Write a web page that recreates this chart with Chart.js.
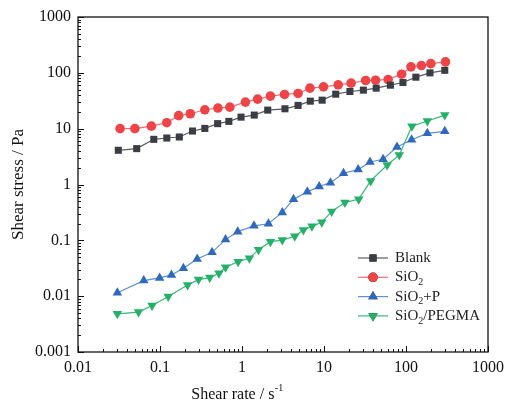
<!DOCTYPE html>
<html>
<head>
<meta charset="utf-8">
<script src="https://cdn.jsdelivr.net/npm/chart.js@4.4.1/dist/chart.umd.min.js"></script>
<style>
  body { margin: 0; background: #fff; }
  #wrap { width: 510px; height: 410px; }
</style>
</head>
<body>
<div id="wrap"><canvas id="chart" width="510" height="410"></canvas></div>
<script>
// ---------- data ----------
const blankX = [0.031,0.052,0.084,0.121,0.172,0.249,0.352,0.505,0.691,0.973,1.41,2.06,3.34,4.83,6.80,9.49,13.9,20.7,30.2,43.3,64.5,91.8,132,196,297];
const blankY = [4.10,4.39,6.44,6.80,7.09,9.07,10.1,12.3,13.5,16.1,17.5,21.5,22.7,26.1,31.1,32.4,41.5,46.3,49.0,53.2,60.1,67.1,83.6,99.9,111];

const sio2X = [0.0326,0.0494,0.0785,0.121,0.169,0.234,0.352,0.509,0.711,1.10,1.55,2.22,3.30,4.83,6.74,9.86,14.9,21.4,32.2,42.6,60.5,88.4,115,154,201,303];
const sio2Y = [10.0,10.0,11.1,12.8,17.1,18.5,21.8,23.4,24.3,29.9,33.8,38.3,41.0,42.7,53.2,56.1,61.0,65.3,72.9,73.8,75.9,94.6,128,135,146,157];

const sio2pX = [0.0302,0.0634,0.099,0.138,0.193,0.284,0.431,0.630,0.887,1.40,2.10,3.10,4.25,6.26,8.74,12.0,17.3,26.1,36.4,52.6,77.6,117,182,297];
const sio2pY = [0.0115,0.0190,0.0212,0.0240,0.0316,0.0464,0.061,0.103,0.143,0.182,0.198,0.316,0.546,0.738,0.92,1.08,1.59,1.85,2.53,2.83,4.70,6.35,8.24,8.95];

const pegmaX = [0.0302,0.0547,0.080,0.126,0.217,0.295,0.404,0.524,0.630,0.896,1.23,1.59,2.22,3.10,4.40,5.60,7.13,9.40,12.4,18.0,26.5,37.1,58.9,82.8,118,182,297];
const pegmaY = [0.00483,0.00518,0.00681,0.00985,0.0159,0.0198,0.0215,0.0257,0.0329,0.0415,0.0476,0.0681,0.0946,0.101,0.118,0.153,0.178,0.210,0.329,0.476,0.546,1.16,2.24,3.38,11.1,13.7,17.5];

const seriesNames = ['Blank', 'SiO2', 'SiO2+P', 'SiO2/PEGMA'];
const xDecades = [0.01, 0.1, 1, 10, 100, 1000];
const yDecades = [0.001, 0.01, 0.1, 1, 10, 100, 1000];

const serif = '"Liberation Serif", "Times New Roman", serif';

function pts(xs, ys) { return xs.map((x, i) => ({ x: x, y: ys[i] })); }

// all 1..9 x 10^n ticks between the decades
function logTicks(decs) {
    const out = [];
    for (let d = 0; d < decs.length; d++) {
        for (let m = 1; m <= 9; m++) {
            if (d === decs.length - 1 && m > 1) break;
            out.push({ value: Number((m * decs[d]).toPrecision(2)), major: m === 1 });
        }
    }
    return out;
}

function decLabel(v) {
    const l = Math.log10(v);
    if (Math.abs(l - Math.round(l)) > 1e-6) return '';
    return String(Number(v.toPrecision(1)));
}

// ---------- inward ticks, frame, legend, x title ----------
const decor = {
    id: 'decor',
    afterDraw(chart) {
        const ctx = chart.ctx;
        const a = chart.chartArea;
        const xs = chart.scales.x, ys = chart.scales.y;
        ctx.save();
        ctx.strokeStyle = '#111';
        ctx.lineWidth = 1;
        xs.ticks.forEach(t => {
            const px = Math.round(xs.getPixelForValue(t.value)) + 0.5;
            const len = t.major ? 6 : 3;
            ctx.beginPath(); ctx.moveTo(px, a.bottom); ctx.lineTo(px, a.bottom - len); ctx.stroke();
        });
        ys.ticks.forEach(t => {
            const py = Math.round(ys.getPixelForValue(t.value)) + 0.5;
            const len = t.major ? 6 : 3;
            ctx.beginPath(); ctx.moveTo(a.left, py); ctx.lineTo(a.left + len, py); ctx.stroke();
        });
        ctx.lineWidth = 1.3;
        ctx.strokeRect(a.left, a.top, a.right - a.left, a.bottom - a.top);

        // legend
        const lx = 358, ly0 = 258, gap = 19.3;
        chart.data.datasets.forEach((ds, i) => {
            const y = ly0 + i * gap;
            ctx.strokeStyle = ds.borderColor;
            ctx.lineWidth = 1.2;
            ctx.beginPath(); ctx.moveTo(lx, y); ctx.lineTo(lx + 30, y); ctx.stroke();
            Chart.helpers.drawPoint(ctx, {
                pointStyle: ds.pointStyle, rotation: ds.pointRotation || 0,
                radius: ds.pointRadius, borderWidth: 0
            }, lx + 15, y);
            ctx.fillStyle = ds.pointBackgroundColor;
            ctx.fill();
            drawLabel(ctx, ds.label, lx + 37, y);
        });

        // x title with superscript
        ctx.fillStyle = '#111';
        ctx.textBaseline = 'alphabetic';
        const main = 'Shear rate / s';
        ctx.font = '16px ' + serif;
        const w1 = ctx.measureText(main).width;
        ctx.font = '10px ' + serif;
        const w2 = ctx.measureText('-1').width;
        let sx = 237 - (w1 + w2) / 2;
        ctx.font = '16px ' + serif;
        ctx.fillText(main, sx, 399);
        ctx.font = '10px ' + serif;
        ctx.fillText('-1', sx + w1 + 0.5, 391);
        ctx.restore();
    }
};

function drawLabel(ctx, text, x, y) {
    ctx.fillStyle = '#222';
    ctx.textBaseline = 'middle';
    ctx.textAlign = 'left';
    const parts = text.split(/(?<=SiO)(2)/);
    let cx = x;
    parts.forEach((p, k) => {
        if (p === '2' && k > 0) {
            ctx.font = '10px ' + serif;
            ctx.fillText(p, cx, y + 5);
        } else {
            ctx.font = '15px ' + serif;
            ctx.fillText(p, cx, y);
        }
        cx += ctx.measureText(p).width;
    });
}

// ---------- chart ----------
new Chart(document.getElementById('chart'), {
    type: 'line',
    data: {
        datasets: [
            { label: seriesNames[0], data: pts(blankX, blankY), borderColor: '#5a5c63', pointBackgroundColor: '#3b3d45',
              pointBorderColor: '#3b3d45', pointStyle: 'rect', pointRadius: 5 },
            { label: seriesNames[1], data: pts(sio2X, sio2Y), borderColor: '#f26d6f', pointBackgroundColor: '#ef4447',
              pointBorderColor: '#ef4447', pointStyle: 'circle', pointRadius: 4.8 },
            { label: seriesNames[2], data: pts(sio2pX, sio2pY), borderColor: '#5d8fd8', pointBackgroundColor: '#2f69bd',
              pointBorderColor: '#2f69bd', pointStyle: 'triangle', pointRadius: 5.5 },
            { label: seriesNames[3], data: pts(pegmaX, pegmaY), borderColor: '#35b977', pointBackgroundColor: '#25b06a',
              pointBorderColor: '#25b06a', pointStyle: 'triangle', pointRotation: 180, pointRadius: 5.5 }
        ]
    },
    options: {
        responsive: false,
        animation: false,
        layout: { padding: { left: 8, right: 18, top: 17, bottom: 0 } },
        elements: { line: { borderWidth: 1.2, tension: 0 }, point: { borderWidth: 0 } },
        plugins: { legend: { display: false }, tooltip: { enabled: false } },
        scales: {
            x: {
                type: 'logarithmic', min: 0.01, max: 1000,
                afterBuildTicks: s => { s.ticks = logTicks(xDecades); },
                afterFit: s => { s.height = 58; },
                grid: { display: false, drawTicks: false },
                border: { display: false },
                ticks: { autoSkip: false, maxRotation: 0, padding: 6, color: '#111',
                         font: { family: serif, size: 16 }, callback: v => decLabel(v) }
            },
            y: {
                type: 'logarithmic', min: 0.001, max: 1000,
                afterBuildTicks: s => { s.ticks = logTicks(yDecades); },
                afterFit: s => { s.width = 70; },
                grid: { display: false, drawTicks: false },
                border: { display: false },
                title: { display: true, text: 'Shear stress / Pa', color: '#111',
                         font: { family: serif, size: 17 }, padding: 0 },
                ticks: { autoSkip: false, padding: 7, color: '#111',
                         font: { family: serif, size: 16 }, callback: v => decLabel(v) }
            }
        }
    },
    plugins: [decor]
});
</script>
</body>
</html>
